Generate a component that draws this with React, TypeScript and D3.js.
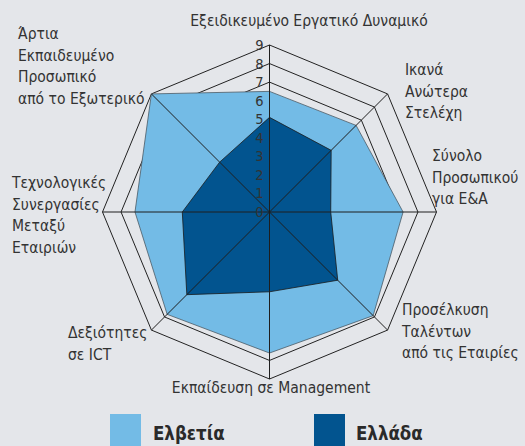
import React from "react";
import * as d3 from "d3";

const categories: string[][] = [
  ["Εξειδικευμένο Εργατικό Δυναμικό"],
  ["Ικανά", "Ανώτερα", "Στελέχη"],
  ["Σύνολο", "Προσωπικού", "για Ε&Α"],
  ["Προσέλκυση", "Ταλέντων", "από τις Εταιρίες"],
  ["Εκπαίδευση σε Management"],
  ["Δεξιότητες", "σε ICT"],
  ["Τεχνολογικές", "Συνεργασίες", "Μεταξύ", "Εταιριών"],
  ["Άρτια", "Εκπαιδευμένο", "Προσωπικό", "από το Εξωτερικό"],
];

const switzerland: number[] = [6.5, 6.6, 7.2, 7.9, 7.6, 7.8, 7.25, 9];
const greece: number[] = [5.1, 4.7, 3.3, 5.2, 4.3, 6.3, 4.7, 3.8];
const ticks: number[] = [0, 1, 2, 3, 4, 5, 6, 7, 8, 9];
const seriesNames: string[] = ["Ελβετία", "Ελλάδα"];

// layout (positions of label blocks: x, first baseline, anchor)
const labelLayout: { x: number; y: number; anchor: string }[] = [
  { x: 309, y: 26, anchor: "middle" },
  { x: 405, y: 75, anchor: "start" },
  { x: 432, y: 161, anchor: "start" },
  { x: 402, y: 315, anchor: "start" },
  { x: 271, y: 393, anchor: "middle" },
  { x: 68, y: 338, anchor: "start" },
  { x: 12, y: 188, anchor: "start" },
  { x: 18, y: 39, anchor: "start" },
];

const W = 525;
const H = 446;
const cx = 269.5;
const cy = 212;
const R = 167;
const BG = "#e4e6ea";
const LIGHT = "#73bbe6";
const DARK = "#02548f";
const TEXT = "#333";
const FONT = "'DejaVu Sans Condensed', 'DejaVu Sans', sans-serif";

export default function App() {
  const n = categories.length;
  const r = d3.scaleLinear().domain([0, 9]).range([0, R]);
  const angle = (i: number) => (i * 2 * Math.PI) / n;

  const radial = d3
    .lineRadial<number>()
    .angle((_, i) => angle(i))
    .radius((d) => r(d))
    .curve(d3.curveLinearClosed);

  const ringPath = (v: number) => radial(d3.range(n).map(() => v)) as string;

  const pt = (i: number, v: number) => [
    Math.sin(angle(i)) * r(v),
    -Math.cos(angle(i)) * r(v),
  ];

  return (
    <svg
      width={W}
      height={H}
      style={{ position: "absolute", left: 0, top: 0, background: BG }}
      fontFamily={FONT}
    >
      <rect x={0} y={0} width={W} height={H} fill={BG} />
      <g transform={`translate(${cx},${cy})`}>
        {ticks.slice(1).map((t) => (
          <path key={t} d={ringPath(t)} fill="none" stroke="#222" strokeWidth={1} />
        ))}
        <path d={radial(switzerland) as string} fill={LIGHT} stroke="#4a5a66" strokeWidth={0.8} />
        <path d={radial(greece) as string} fill={DARK} stroke="#1a1a1a" strokeWidth={0.8} />
        {d3.range(n).map((i) => {
          const [x, y] = pt(i, 9);
          return <line key={i} x1={0} y1={0} x2={x} y2={y} stroke="#1e1e1e" strokeWidth={1} />;
        })}
        {ticks.map((t) => (
          <text
            key={t}
            x={-6}
            y={-r(t)}
            textAnchor="end"
            dominantBaseline="central"
            fontSize={14.5}
            fill={TEXT}
          >
            {t}
          </text>
        ))}
      </g>
      {categories.map((lines, i) => (
        <text
          key={i}
          x={labelLayout[i].x}
          y={labelLayout[i].y}
          textAnchor={labelLayout[i].anchor}
          fontSize={15.5}
          fill={TEXT}
        >
          {lines.map((l, j) => (
            <tspan key={j} x={labelLayout[i].x} dy={j === 0 ? 0 : 21.5}>
              {l}
            </tspan>
          ))}
        </text>
      ))}
      {/* legend */}
      <rect x={110} y={414} width={31} height={40} fill={LIGHT} />
      <text x={153} y={440} fontSize={18.5} fontWeight="bold" fill="#2a2a2a">
        {seriesNames[0]}
      </text>
      <rect x={314} y={414} width={31} height={40} fill={DARK} />
      <text x={356} y={440} fontSize={18.5} fontWeight="bold" fill="#2a2a2a">
        {seriesNames[1]}
      </text>
    </svg>
  );
}
